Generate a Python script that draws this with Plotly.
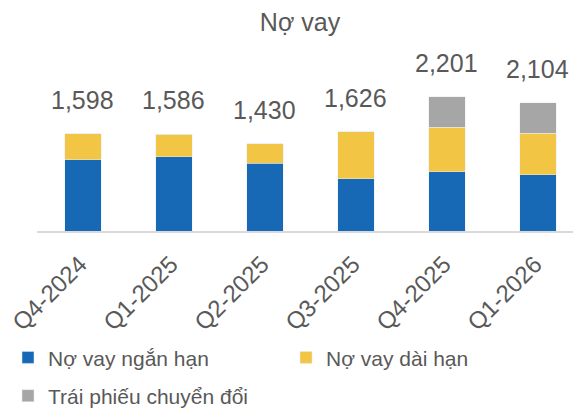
import plotly.graph_objects as go

categories = ["Q4-2024", "Q1-2025", "Q2-2025", "Q3-2025", "Q4-2025", "Q1-2026"]
short_term = [1171, 1221, 1111, 860, 968, 925]
long_term = [427, 365, 319, 766, 733, 682]
convertible = [0, 0, 0, 0, 500, 497]
totals = [1598, 1586, 1430, 1626, 2201, 2104]
total_labels = ["1,598", "1,586", "1,430", "1,626", "2,201", "2,104"]

FONT = "Liberation Sans"
GREY = "#595959"

fig = go.Figure()
fig.add_trace(go.Bar(x=categories, y=short_term, name="Nợ vay ngắn hạn",
                     marker_color="#1769B5", legend="legend", legendgroup="a"))
fig.add_trace(go.Bar(x=categories, y=long_term, name="Nợ vay dài hạn",
                     marker_color="#F2C544", legend="legend2", legendgroup="b"))
fig.add_trace(go.Bar(x=categories, y=convertible, name="Trái phiếu chuyển đổi",
                     marker_color="#A6A6A6", legend="legend", legendgroup="c"))

for c, t, lab in zip(categories, totals, total_labels):
    fig.add_annotation(x=c, y=t, text=lab, showarrow=False, yanchor="middle",
                       yshift=34, font=dict(family=FONT, size=25, color=GREY))

legend_common = dict(orientation="v", xref="container", yref="container",
                     xanchor="left", yanchor="top", tracegroupgap=8,
                     bgcolor="rgba(0,0,0,0)",
                     font=dict(family=FONT, size=21, color=GREY))

fig.update_layout(
    width=581, height=410,
    barmode="stack", bargap=0.6,
    paper_bgcolor="white", plot_bgcolor="white",
    margin=dict(l=29, r=8, t=52, b=187, autoexpand=False),
    title=dict(text="Nợ vay", x=0.5026, xanchor="center", y=0.966, yanchor="middle",
               font=dict(family=FONT, size=25, color=GREY)),
    font=dict(family=FONT, size=21, color=GREY),
    showlegend=True,
    legend=dict(x=0.0, y=0.197, **legend_common),
    legend2=dict(x=0.4785, y=0.197, **legend_common),
    xaxis=dict(range=[-0.505, 5.473], tickangle=-45, showline=True,
               linecolor="#D9D9D9", linewidth=1.5, ticks="", automargin=False,
               ticklabelstandoff=8, ticklabelshift=-3,
               tickfont=dict(family=FONT, size=24, color=GREY)),
    yaxis=dict(range=[0, 2805], visible=False, showgrid=False, automargin=False),
)

fig.write_html("out.html")
